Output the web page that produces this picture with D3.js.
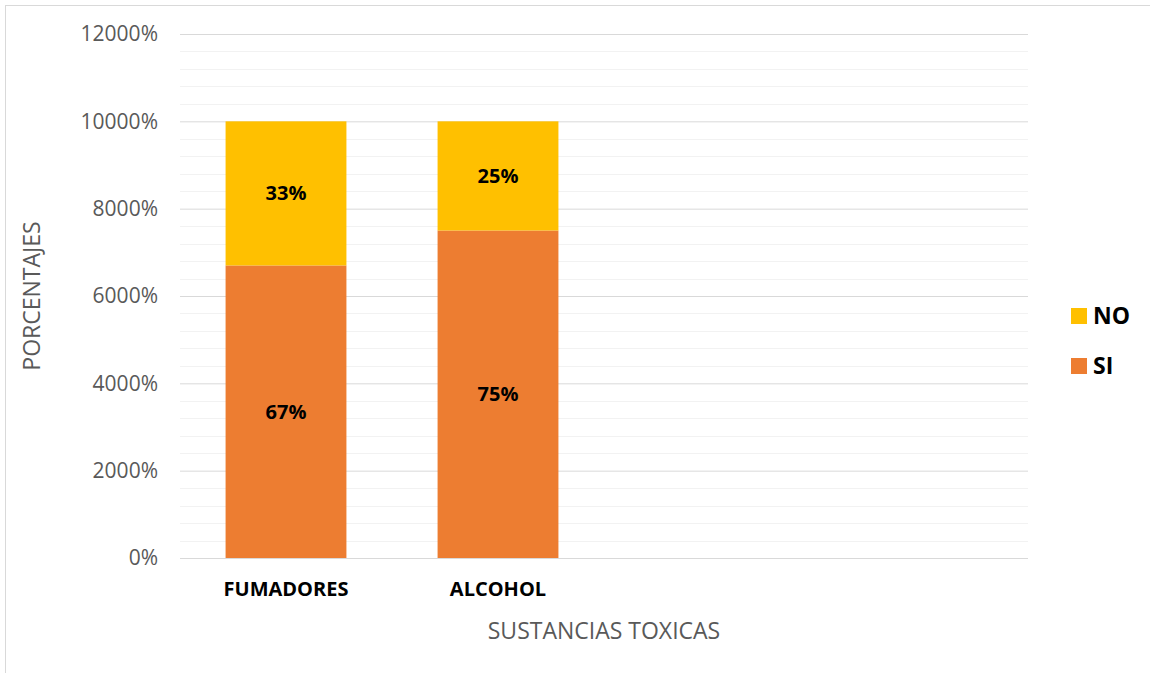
<!DOCTYPE html>
<html>
<head>
<meta charset="utf-8">
<script src="https://cdn.jsdelivr.net/npm/d3@7"></script>
<style>
  html, body { margin: 0; padding: 0; background: #fff; }
  svg { display: block; font-family: "Open Sans", "Liberation Sans", sans-serif; }
</style>
</head>
<body>
<svg id="chart" width="1150" height="673"></svg>
<script>
// Categories on the x axis (two slots are left empty)
const categories = ["FUMADORES", "ALCOHOL", "", " "];
// Series values (stored as plain numbers, shown with a % sign)
const siValues = [67, 75, null, null];
const noValues = [33, 25, null, null];
const seriesNames = ["SI", "NO"];
const seriesColors = ["#ED7D31", "#FFC000"];
// Axis ticks
const yMajorTicks = [0, 20, 40, 60, 80, 100, 120];
const yMinorTicks = d3.range(0, 121, 4);

const FONT = '"Open Sans", "Liberation Sans", sans-serif';
const svg = d3.select("#chart");
const W = 1150, H = 673;
const margin = { left: 180, right: 122, top: 34, bottom: 115 };

// Outer chart frame
svg.append("rect")
  .attr("x", 5.5).attr("y", 5.5)
  .attr("width", W + 10).attr("height", H + 10)
  .attr("fill", "#fff").attr("stroke", "#d9d9d9").attr("stroke-width", 1);

const x = d3.scaleBand()
  .domain(categories)
  .range([margin.left, W - margin.right])
  .paddingInner(0.43).paddingOuter(0.215);

const y = d3.scaleLinear()
  .domain([0, 120])
  .range([H - margin.bottom, margin.top]);

// Minor gridlines
svg.append("g").selectAll("line")
  .data(yMinorTicks.filter(t => !yMajorTicks.includes(t)))
  .join("line")
  .attr("x1", margin.left).attr("x2", W - margin.right)
  .attr("y1", d => Math.round(y(d)) + 0.5).attr("y2", d => Math.round(y(d)) + 0.5)
  .attr("stroke", "#f2f2f2").attr("stroke-width", 1);

// Major gridlines and tick labels
const yAxis = d3.axisLeft(y)
  .tickValues(yMajorTicks)
  .tickSize(-(W - margin.left - margin.right))
  .tickPadding(22)
  .tickFormat(d => d3.format("d")(d * 100) + "%");

const gy = svg.append("g")
  .attr("transform", `translate(${margin.left},0)`)
  .call(yAxis)
  .attr("font-family", FONT);
gy.select(".domain").remove();
gy.selectAll(".tick line").attr("stroke", "#d9d9d9").attr("stroke-width", 1);
gy.selectAll(".tick text")
  .attr("fill", "#595959").attr("font-size", 21);

// Stacked bars
const rows = categories.map((c, i) => ({ cat: c, SI: siValues[i], NO: noValues[i] }))
  .filter(r => r.SI != null);
const stack = d3.stack().keys(seriesNames)(rows);

const layers = svg.append("g").selectAll("g")
  .data(stack)
  .join("g")
  .attr("fill", (d, i) => seriesColors[i]);

layers.selectAll("rect")
  .data(d => d)
  .join("rect")
  .attr("x", d => x(d.data.cat))
  .attr("width", x.bandwidth())
  .attr("y", d => y(d[1]))
  .attr("height", d => y(d[0]) - y(d[1]));

// Value labels
layers.selectAll("text")
  .data(d => d.map(v => ({ v, key: d.key })))
  .join("text")
  .attr("x", d => x(d.v.data.cat) + x.bandwidth() / 2)
  .attr("y", d => (y(d.v[0]) + y(d.v[1])) / 2)
  .attr("dy", "0.35em")
  .attr("text-anchor", "middle")
  .attr("font-size", 20).attr("font-weight", "bold").attr("fill", "#000")
  .text(d => d.v.data[d.key] + "%");

// Category labels
svg.append("g").selectAll("text")
  .data(categories.filter(c => c.trim() !== ""))
  .join("text")
  .attr("x", d => x(d) + x.bandwidth() / 2)
  .attr("y", 596)
  .attr("text-anchor", "middle")
  .attr("font-size", 20).attr("font-weight", "bold").attr("fill", "#000")
  .text(d => d);

// Axis titles
svg.append("text")
  .attr("x", (margin.left + W - margin.right) / 2).attr("y", 639)
  .attr("text-anchor", "middle")
  .attr("font-size", 23).attr("fill", "#595959")
  .text("SUSTANCIAS TOXICAS");

svg.append("text")
  .attr("transform", `translate(40,${(margin.top + H - margin.bottom) / 2}) rotate(-90)`)
  .attr("text-anchor", "middle")
  .attr("font-size", 23).attr("fill", "#595959")
  .text("PORCENTAJES");

// Legend
const legendItems = [
  { name: "NO", color: seriesColors[1] },
  { name: "SI", color: seriesColors[0] }
];
const legend = svg.append("g").selectAll("g")
  .data(legendItems)
  .join("g")
  .attr("transform", (d, i) => `translate(1071,${308 + i * 50})`);
legend.append("rect")
  .attr("width", 16).attr("height", 16)
  .attr("fill", d => d.color);
legend.append("text")
  .attr("x", 22).attr("y", 8).attr("dy", "0.36em")
  .attr("font-size", 23).attr("font-weight", "bold").attr("fill", "#000")
  .text(d => d.name);
</script>
</body>
</html>
